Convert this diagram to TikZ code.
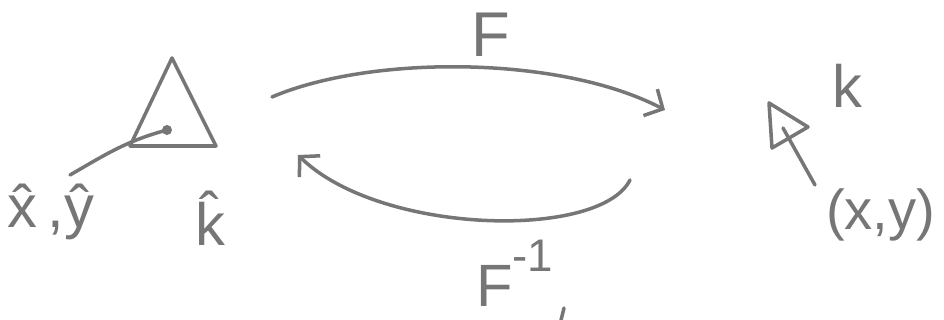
\documentclass[tikz,border=0pt]{standalone}
\usepackage{fontspec}
\setmainfont{Liberation Sans}
\usetikzlibrary{arrows.meta}
\definecolor{pencil}{RGB}{118,118,118}
\newcommand\tallhat[1]{\ooalign{#1\cr\hidewidth\raisebox{0.2em}{ˆ}\hidewidth\cr}}
\begin{document}
\begin{tikzpicture}[x=0.02cm,y=-0.02cm,
  pen/.style={draw=pencil, line width=2pt, line cap=round, line join=round},
  lbl/.style={text=pencil, inner sep=0pt, outer sep=0pt},
  barb/.style={-{Straight Barb[length=8pt,width=17pt,line width=2pt]}}]
\useasboundingbox (0,0) rectangle (944,320);
% left triangle with point
\coordinate (apex) at (172,58);
\coordinate (bl) at (130,146);
\coordinate (br) at (216,146);
\draw[pen] (apex) -- (br) -- (bl) -- cycle;
\coordinate (dot) at (167,130);
\fill[pencil] (dot) circle (5);
\coordinate (tailL) at (70,175);
\draw[pen] (dot) to[out=195,in=30] (tailL);
% labels left
\node[lbl, anchor=base west, font=\fontsize{34}{36}\selectfont] (xy) at (8,228) {\^x\,,\^y};
\node[lbl, anchor=base west, font=\fontsize{34}{36}\selectfont] (khat) at (195,246) {\tallhat{k}};
% arcs
\coordinate (t1) at (272,97);
\coordinate (t2) at (665,110);
\draw[pen, barb] (t1) .. controls (370,55) and (560,55) .. (t2);
\coordinate (b1) at (630,180);
\coordinate (b2) at (298,155);
\draw[pen, barb] (b1) .. controls (600,240) and (380,235) .. (b2);
\node[lbl, anchor=base west, font=\fontsize{36}{38}\selectfont] (F) at (471,57) {F};
\node[lbl, anchor=base west, font=\fontsize{34}{36}\selectfont] (Finv) at (476,307) {F\raisebox{0.6em}{\fontsize{26}{28}\selectfont -1}};
\coordinate (tk1) at (564,308);
\coordinate (tk2) at (561,320);
\draw[pen] (tk1) -- (tk2);
% right small triangle
\coordinate (r1) at (769,103);
\coordinate (r2) at (808,127);
\coordinate (r3) at (772,148);
\draw[pen] (r1) -- (r2) -- (r3) -- cycle;
\coordinate (rin) at (783,128);
\coordinate (rtail) at (815,185);
\draw[pen] (rin) -- (rtail);
\node[lbl, anchor=base west, font=\fontsize{34}{36}\selectfont] (k) at (832,108) {k};
\node[lbl, anchor=base west, font=\fontsize{32}{34}\selectfont] (pxy) at (826,230) {(x,y)};
\end{tikzpicture}
\end{document}
